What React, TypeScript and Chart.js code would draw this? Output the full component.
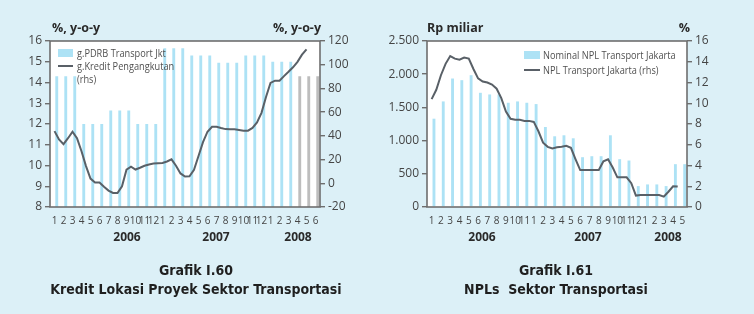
import React, { useEffect, useRef } from "react";
import { Chart, registerables } from "chart.js";

Chart.register(...registerables);

// ---------- Grafik I.60 : Kredit Lokasi Proyek Sektor Transportasi ----------
const months60 = [
  "1", "2", "3", "4", "5", "6", "7", "8", "9", "10", "11", "12",
  "1", "2", "3", "4", "5", "6", "7", "8", "9", "10", "11", "12",
  "1", "2", "3", "4", "5", "6",
];
const years60 = ["2006", "2007", "2008"];
// quarterly PDRB growth, repeated for each month of the quarter (%, y-o-y)
const pdrbTransportJkt = [
  14.3, 14.3, 14.3, 12.0, 12.0, 12.0, 12.65, 12.65, 12.65, 12.0, 12.0, 12.0,
  15.65, 15.65, 15.65, 15.3, 15.3, 15.3, 14.95, 14.95, 14.95, 15.3, 15.3, 15.3,
  15.0, 15.0, 15.0, 14.3, 14.3, 14.3,
];
// last quarter is a projection (grey bars)
const pdrbProjection = [
  false, false, false, false, false, false, false, false, false, false, false, false,
  false, false, false, false, false, false, false, false, false, false, false, false,
  false, false, false, true, true, true,
];
// transport credit growth, semi-monthly observations (%, y-o-y, rhs)
const kreditPengangkutan = [
  44, 37, 33, 38, 43.5, 38, 27, 14.5, 4, 0.7, 0.6, -3, -6.2, -8.2, -8.2, -2.5,
  11.5, 14, 11.6, 13.1, 14.8, 15.9, 16.6, 16.9, 17.2, 18.4, 20.2, 14.8, 8.3, 5.7,
  5.9, 11.3, 23, 34.7, 43.5, 47.7, 47.7, 46.6, 45.7, 45.5, 45.5, 45, 44.4, 44.4,
  46.7, 51.3, 59.4, 72.8, 84.6, 86.5, 86.5, 90.4, 94, 97.8, 102.4, 108.5, 113,
];
const ticksLeft60 = { min: 8, max: 16, step: 1 };
const ticksRight60 = { min: -20, max: 120, step: 20 };

// ---------- Grafik I.61 : NPLs Sektor Transportasi ----------
const months61 = [
  "1", "2", "3", "4", "5", "6", "7", "8", "9", "10", "11",
  "1", "2", "3", "4", "5", "6", "7", "8", "9", "10", "11", "12",
  "1", "2", "3", "4", "5",
];
const years61 = ["2006", "2007", "2008"];
// nominal NPL, Rp miliar
const nominalNpl = [
  1330, 1590, 1935, 1910, 1985, 1720, 1695, 1695, 1570, 1590, 1570, 1550,
  1205, 1065, 1080, 1035, 750, 765, 765, 1080, 720, 700, 315, 340, 340, 315,
  645, 645,
];
// NPL ratio, semi-monthly observations (%, rhs)
const nplRatio = [
  10.4, 11.3, 12.7, 13.8, 14.55, 14.3, 14.2, 14.4, 14.3, 13.3, 12.4, 12.1, 12.0,
  11.8, 11.4, 10.5, 9.2, 8.5, 8.4, 8.4, 8.3, 8.3, 8.2, 7.3, 6.2, 5.8, 5.65, 5.75,
  5.8, 5.9, 5.7, 4.6, 3.56, 3.56, 3.56, 3.56, 3.56, 4.4, 4.6, 3.8, 2.86, 2.86,
  2.86, 2.3, 1.1, 1.15, 1.15, 1.15, 1.15, 1.15, 1.0, 1.47, 2.0, 1.97,
];
const ticksLeft61 = { min: 0, max: 2500, step: 500 };
const ticksRight61 = { min: 0, max: 16, step: 2 };

// ---------- styling ----------
const PAGE_BG = "#dcf0f7";
const BAR_BLUE = "#ade2f5";
const BAR_GREY = "#bdbdbd";
const LINE_GREY = "#596067";
const AXIS_GREY = "#6e6e6e";
const TEXT = "#454545";
const SANS = '"Open Sans", "Noto Sans", "DejaVu Sans", sans-serif';
const COND = '"Liberation Sans Narrow", "DejaVu Sans Condensed", "Open Sans", sans-serif';

const PANEL_W = 377;
const PANEL_H = 314;

// white plot background and the frame round the plot area
const framePlugin = {
  id: "plotFrame",
  beforeDatasetsDraw(chart: any) {
    const { ctx, chartArea: a } = chart;
    ctx.save();
    ctx.fillStyle = "#ffffff";
    ctx.fillRect(a.left, a.top, a.right - a.left, a.bottom - a.top);
    ctx.restore();
  },
  afterDraw(chart: any) {
    const { ctx, chartArea: a } = chart;
    ctx.save();
    ctx.strokeStyle = AXIS_GREY;
    ctx.lineWidth = 1.6;
    ctx.strokeRect(a.left, a.top, a.right - a.left, a.bottom - a.top);
    ctx.restore();
  },
};

function yAxis(
  position: "left" | "right",
  range: { min: number; max: number; step: number },
  width: number,
  fmt?: (v: number) => string
) {
  return {
    position,
    min: range.min,
    max: range.max,
    border: { display: false },
    grid: {
      drawOnChartArea: false,
      drawTicks: true,
      tickLength: 5,
      color: AXIS_GREY,
      lineWidth: 1.4,
    },
    ticks: {
      stepSize: range.step,
      padding: 3,
      color: TEXT,
      font: { family: SANS, size: 12 },
      callback: (v: any) => (fmt ? fmt(Number(v)) : String(v)),
    },
    afterFit(scale: any) {
      scale.width = width;
    },
  };
}

function xAxis(plotBottom: number) {
  return {
    type: "category" as const,
    offset: true,
    border: { display: false },
    grid: { display: false, drawTicks: false },
    ticks: {
      autoSkip: false,
      maxRotation: 0,
      minRotation: 0,
      padding: 8,
      color: TEXT,
      font: { family: SANS, size: 10 },
    },
    afterFit(scale: any) {
      scale.height = PANEL_H - plotBottom;
    },
  };
}

// hidden month-index axis for the semi-monthly line, aligned with the category slots
function timeAxis(count: number) {
  return {
    type: "linear" as const,
    display: false,
    offset: false,
    bounds: "data" as const,
    min: -0.5,
    max: count - 0.5,
  };
}

const thousands = (v: number) =>
  v.toString().replace(/\B(?=(\d{3})+(?!\d))/g, ".");

function useChart(ref: React.RefObject<HTMLCanvasElement>, build: () => any) {
  useEffect(() => {
    if (!ref.current) return;
    const chart = new Chart(ref.current, build());
    return () => chart.destroy();
  }, []);
}

function Chart60() {
  const ref = useRef<HTMLCanvasElement>(null);
  useChart(ref, () => ({
    type: "bar",
    data: {
      labels: months60,
      datasets: [
        {
          type: "line",
          label: "g.Kredit Pengangkutan (rhs)",
          data: kreditPengangkutan.map((v, i) => ({ x: i / 2, y: v })),
          xAxisID: "xt",
          yAxisID: "y1",
          borderColor: LINE_GREY,
          borderWidth: 2,
          pointRadius: 0,
          tension: 0,
          order: 0,
        },
        {
          type: "bar",
          label: "g.PDRB Transport Jkt",
          data: pdrbTransportJkt,
          xAxisID: "x",
          yAxisID: "y",
          backgroundColor: pdrbProjection.map((p) => (p ? BAR_GREY : BAR_BLUE)),
          categoryPercentage: 1,
          barPercentage: 0.64,
          order: 1,
        },
      ],
    },
    options: {
      animation: false,
      responsive: false,
      maintainAspectRatio: false,
      layout: { padding: { top: 41, left: 0, right: 0, bottom: 0 } },
      plugins: { legend: { display: false }, tooltip: { enabled: false } },
      scales: {
        x: xAxis(207),
        xt: timeAxis(months60.length),
        y: yAxis("left", ticksLeft60, 50),
        y1: yAxis("right", ticksRight60, 57),
      },
    },
    plugins: [framePlugin],
  }));
  return (
    <canvas
      ref={ref}
      width={PANEL_W}
      height={PANEL_H}
      style={{ position: "absolute", left: 0, top: 0, width: PANEL_W, height: PANEL_H }}
    />
  );
}

function Chart61() {
  const ref = useRef<HTMLCanvasElement>(null);
  useChart(ref, () => ({
    type: "bar",
    data: {
      labels: months61,
      datasets: [
        {
          type: "line",
          label: "NPL Transport Jakarta (rhs)",
          data: nplRatio.map((v, i) => ({ x: i / 2, y: v })),
          xAxisID: "xt",
          yAxisID: "y1",
          borderColor: LINE_GREY,
          borderWidth: 2,
          pointRadius: 0,
          tension: 0,
          order: 0,
        },
        {
          type: "bar",
          label: "Nominal NPL Transport Jakarta",
          data: nominalNpl,
          xAxisID: "x",
          yAxisID: "y",
          backgroundColor: BAR_BLUE,
          categoryPercentage: 1,
          barPercentage: 0.62,
          order: 1,
        },
      ],
    },
    options: {
      animation: false,
      responsive: false,
      maintainAspectRatio: false,
      layout: { padding: { top: 41, left: 0, right: 0, bottom: 0 } },
      plugins: { legend: { display: false }, tooltip: { enabled: false } },
      scales: {
        x: xAxis(207),
        xt: timeAxis(months61.length),
        y: yAxis("left", ticksLeft61, 50, thousands),
        y1: yAxis("right", ticksRight61, 67),
      },
    },
    plugins: [framePlugin],
  }));
  return (
    <canvas
      ref={ref}
      width={PANEL_W}
      height={PANEL_H}
      style={{ position: "absolute", left: PANEL_W, top: 0, width: PANEL_W, height: PANEL_H }}
    />
  );
}

const abs = (extra: React.CSSProperties): React.CSSProperties => ({
  position: "absolute",
  whiteSpace: "nowrap",
  ...extra,
});

function Label(props: {
  x: number;
  y: number;
  text: string;
  align?: "left" | "center" | "right";
  bold?: boolean;
  size?: number;
  family?: string;
  color?: string;
  squeeze?: number;
}) {
  const {
    x, y, text, align = "left", bold = false, size = 12, family = SANS, color = TEXT, squeeze = 1,
  } = props;
  const shift = align === "center" ? "-50%" : align === "right" ? "-100%" : "0";
  const origin = align === "center" ? "center" : align === "right" ? "right" : "left";
  return (
    <div
      style={abs({
        left: x,
        top: y - size * 0.6,
        lineHeight: `${size * 1.2}px`,
        fontSize: size,
        fontFamily: family,
        fontWeight: bold ? 700 : 400,
        color,
        transformOrigin: `${origin} center`,
        transform: `translateX(${shift}) scaleX(${squeeze})`,
      })}
    >
      {text}
    </div>
  );
}

function LegendBox(props: { x: number; y: number; w: number; h: number; color: string }) {
  return (
    <div
      style={abs({ left: props.x, top: props.y, width: props.w, height: props.h, background: props.color })}
    />
  );
}

const LEGEND_TEXT = "#505050";
const LEGEND_SQUEEZE = 0.8;

export default function App() {
  const titleColor = "#1f1f1f";
  return (
    <div
      style={{
        position: "absolute",
        left: 0,
        top: 0,
        width: 754,
        height: 314,
        background: PAGE_BG,
        overflow: "hidden",
      }}
    >
      <Chart60 />
      <Chart61 />

      {/* Grafik I.60 texts */}
      <Label x={52} y={27} text="%, y-o-y" bold size={12.5} color="#2a2a2a" />
      <Label x={321} y={27} text="%, y-o-y" bold size={12.5} color="#2a2a2a" align="right" />
      <LegendBox x={58} y={48.5} w={15} h={8} color={BAR_BLUE} />
      <Label x={77} y={52.5} text="g.PDRB Transport Jkt" size={11.5} color={LEGEND_TEXT} squeeze={LEGEND_SQUEEZE} />
      <LegendBox x={58} y={65} w={15} h={2} color={LINE_GREY} />
      <Label x={77} y={66} text="g.Kredit Pengangkutan" size={11.5} color={LEGEND_TEXT} squeeze={LEGEND_SQUEEZE} />
      <Label x={77} y={78.5} text="(rhs)" size={11.5} color={LEGEND_TEXT} squeeze={LEGEND_SQUEEZE} />
      <Label x={127} y={237} text={years60[0]} bold size={12} color="#2a2a2a" align="center" />
      <Label x={216} y={237} text={years60[1]} bold size={12} color="#2a2a2a" align="center" />
      <Label x={298} y={237} text={years60[2]} bold size={12} color="#2a2a2a" align="center" />
      <Label x={196} y={270} text="Grafik I.60" bold size={14} family={COND} color={titleColor} align="center" />
      <Label
        x={196}
        y={289.5}
        text="Kredit Lokasi Proyek Sektor Transportasi"
        bold
        size={14}
        family={COND}
        color={titleColor}
        align="center"
      />

      {/* Grafik I.61 texts */}
      <Label x={427} y={27} text="Rp miliar" bold size={12.5} color="#2a2a2a" />
      <Label x={690} y={27} text="%" bold size={12.5} color="#2a2a2a" align="right" />
      <LegendBox x={524} y={50.5} w={16} h={8} color={BAR_BLUE} />
      <Label x={543} y={54.5} text="Nominal NPL Transport Jakarta" size={11.5} color={LEGEND_TEXT} squeeze={LEGEND_SQUEEZE} />
      <LegendBox x={524} y={69} w={16} h={2} color={LINE_GREY} />
      <Label x={543} y={70} text="NPL Transport Jakarta (rhs)" size={11.5} color={LEGEND_TEXT} squeeze={LEGEND_SQUEEZE} />
      <Label x={482} y={237} text={years61[0]} bold size={12} color="#2a2a2a" align="center" />
      <Label x={588} y={237} text={years61[1]} bold size={12} color="#2a2a2a" align="center" />
      <Label x={668} y={237} text={years61[2]} bold size={12} color="#2a2a2a" align="center" />
      <Label x={556} y={270} text="Grafik I.61" bold size={14} family={COND} color={titleColor} align="center" />
      <Label
        x={556}
        y={289.5}
        text={"NPLs\u00a0 Sektor Transportasi"}
        bold
        size={14}
        family={COND}
        color={titleColor}
        align="center"
      />
    </div>
  );
}
